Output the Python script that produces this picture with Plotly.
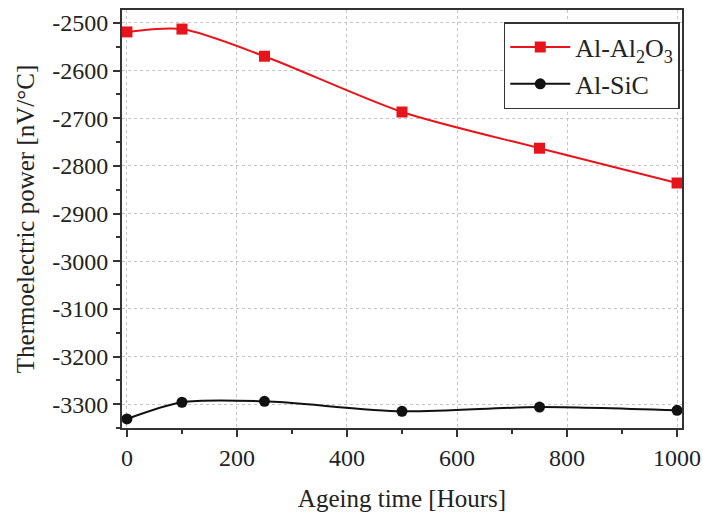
import plotly.graph_objects as go

hours = [0, 100, 250, 500, 750, 1000]
al2o3 = [-2519, -2513, -2570, -2687, -2763, -2836]
sic = [-3331, -3296, -3294, -3315, -3306, -3313]

y_tickvals = [-2500, -2600, -2700, -2800, -2900, -3000, -3100, -3200, -3300]
y_ticktext = ["-2500", "-2600", "-2700", "-2800", "-2900", "-3000", "-3100", "-3200", "-3300"]
x_tickvals = [0, 200, 400, 600, 800, 1000]
x_ticktext = ["0", "200", "400", "600", "800", "1000"]

font = "Liberation Serif, Times New Roman, serif"

fig = go.Figure()
fig.add_trace(go.Scatter(x=hours, y=al2o3, mode="lines+markers", name="Al-Al<sub>2</sub>O<sub>3</sub>",
                         line=dict(color="#e8141b", width=2, shape="spline", smoothing=0.75),
                         marker=dict(symbol="square", size=11, color="#e8141b")))
fig.add_trace(go.Scatter(x=hours, y=sic, mode="lines+markers", name="Al-SiC",
                         line=dict(color="#111111", width=2, shape="spline", smoothing=0.75),
                         marker=dict(symbol="circle", size=11, color="#111111")))

axis_common = dict(showline=True, linecolor="#333333", linewidth=2, mirror=True,
                   ticks="outside", ticklen=7, tickwidth=1.5, tickcolor="#333333",
                   showgrid=True, gridcolor="#c4c4c4", griddash="dot", gridwidth=1,
                   zeroline=False, automargin=False,
                   tickfont=dict(family=font, size=24, color="#222"),
                   title_font=dict(family=font, size=25, color="#222"))

fig.update_xaxes(range=[-9, 1009], tickvals=x_tickvals, ticktext=x_ticktext,
                 minor=dict(dtick=100, tick0=0, ticks="outside", ticklen=4, tickcolor="#333333", showgrid=False),
                 title_text="Ageing time [Hours]", title_standoff=20, **axis_common)
fig.update_yaxes(range=[-3350, -2473], tickvals=y_tickvals, ticktext=y_ticktext,
                 minor=dict(dtick=50, tick0=-2500, ticks="outside", ticklen=4, tickcolor="#333333", showgrid=False),
                 title_text="Thermoelectric power [nV/°C]", title_standoff=10, **axis_common)

fig.update_layout(width=703, height=513, margin=dict(l=122, r=21, t=10, b=85),
                  plot_bgcolor="white", paper_bgcolor="white",
                  legend=dict(x=0.996, y=0.971, xanchor="right", yanchor="top",
                              bordercolor="#333333", borderwidth=1.5, bgcolor="white",
                              font=dict(family=font, size=26, color="#222"),
                              itemwidth=60, tracegroupgap=0),
                  showlegend=True)

fig.write_html("out.html", config={"displayModeBar": False},
               post_script="document.body.style.margin='0';document.body.style.overflow='hidden';")
